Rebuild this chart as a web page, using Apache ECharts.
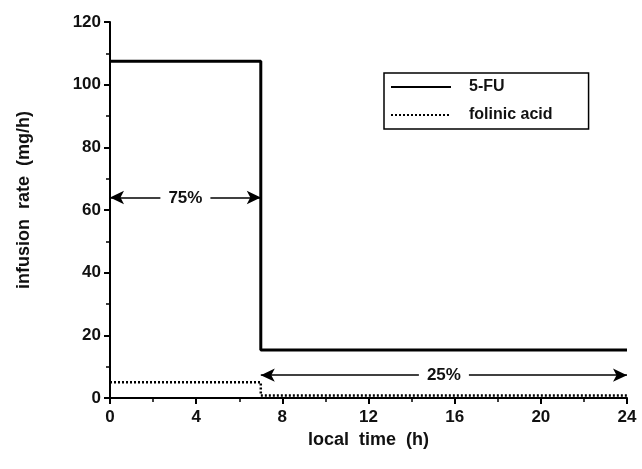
<!DOCTYPE html>
<html>
<head>
<meta charset="utf-8">
<script src="https://cdn.jsdelivr.net/npm/echarts@6/dist/echarts.min.js"></script>
<style>
  html, body { margin: 0; padding: 0; background: #fff; }
  #chart { width: 642px; height: 469px; }
</style>
</head>
<body>
<div id="chart"></div>
<script>
// step profile of the infusion
const hours = [0, 7, 7, 24]
const fluorouracil = [107.5, 107.5, 15.3, 15.3]
const folinicAcid = [5, 5, 0.8, 0.8]

// dose share brackets: [start h, end h, level, label]
const shareStart = [0, 7]
const shareEnd = [7, 24]
const shareLevel = [64, 7.3]
const shareLabel = ['75%', '25%']

const font = 'Liberation Sans, Arial, sans-serif'

function pairs(ys) {
    return hours.map((h, i) => [h, ys[i]])
}

const brackets = shareLabel.map((txt, i) => [
    { coord: [shareStart[i], shareLevel[i]], label: { formatter: txt } },
    { coord: [shareEnd[i], shareLevel[i]] }
])

const chart = echarts.init(document.getElementById('chart'), null, { renderer: 'canvas' })

chart.setOption({
    animation: false,
    backgroundColor: '#fff',
    grid: { left: 110, right: 15, top: 22, bottom: 71 },
    legend: {
        orient: 'vertical',
        left: 384,
        top: 73,
        padding: [6, 36, 6, 6],
        itemWidth: 60,
        itemHeight: 12,
        itemGap: 12,
        borderColor: '#000',
        borderWidth: 1.5,
        itemStyle: { opacity: 0 },
        textStyle: { fontFamily: font, fontWeight: 'bold', fontSize: 16, color: '#111', padding: [0, 0, 0, 13] },
        data: ['5-FU', 'folinic acid']
    },
    xAxis: {
        type: 'value',
        min: 0,
        max: 24,
        interval: 4,
        name: 'local  time  (h)',
        nameLocation: 'middle',
        nameGap: 33,
        nameTextStyle: { fontFamily: font, fontWeight: 'bold', fontSize: 18, color: '#111' },
        axisLine: { lineStyle: { color: '#000', width: 2 } },
        axisTick: { length: 6, lineStyle: { color: '#000', width: 2 } },
        minorTick: { show: true, splitNumber: 2, length: 4, lineStyle: { color: '#000', width: 1.5 } },
        axisLabel: { fontFamily: font, fontWeight: 'bold', fontSize: 17, color: '#111', margin: 11 },
        splitLine: { show: false }
    },
    yAxis: {
        type: 'value',
        min: 0,
        max: 120,
        interval: 20,
        name: 'infusion  rate  (mg/h)',
        nameLocation: 'middle',
        nameGap: 77,
        nameTextStyle: { fontFamily: font, fontWeight: 'bold', fontSize: 18, color: '#111', padding: [0, 0, 0, 20] },
        axisLine: { show: true, lineStyle: { color: '#000', width: 2 } },
        axisTick: { show: true, length: 6, lineStyle: { color: '#000', width: 2 } },
        minorTick: { show: true, splitNumber: 2, length: 4, lineStyle: { color: '#000', width: 1.5 } },
        axisLabel: { fontFamily: font, fontWeight: 'bold', fontSize: 17, color: '#111', margin: 9 },
        splitLine: { show: false }
    },
    series: [
        {
            name: '5-FU',
            type: 'line',
            data: pairs(fluorouracil),
            symbol: 'none',
            color: '#000',
            lineStyle: { color: '#000', width: 3 },
            markLine: {
                silent: true,
                symbol: ['arrow', 'arrow'],
                symbolSize: [10, 14],
                lineStyle: { color: '#000', width: 1.5, type: 'solid' },
                label: {
                    position: 'middle',
                    fontFamily: font,
                    fontWeight: 'bold',
                    fontSize: 17,
                    color: '#111',
                    backgroundColor: '#fff',
                    padding: [0, 8],
                    distance: -9
                },
                data: brackets
            }
        },
        {
            name: 'folinic acid',
            type: 'line',
            data: pairs(folinicAcid),
            symbol: 'none',
            color: '#000',
            lineStyle: { color: '#000', width: 2.5, type: [2, 2] }
        }
    ]
})
</script>
</body>
</html>
